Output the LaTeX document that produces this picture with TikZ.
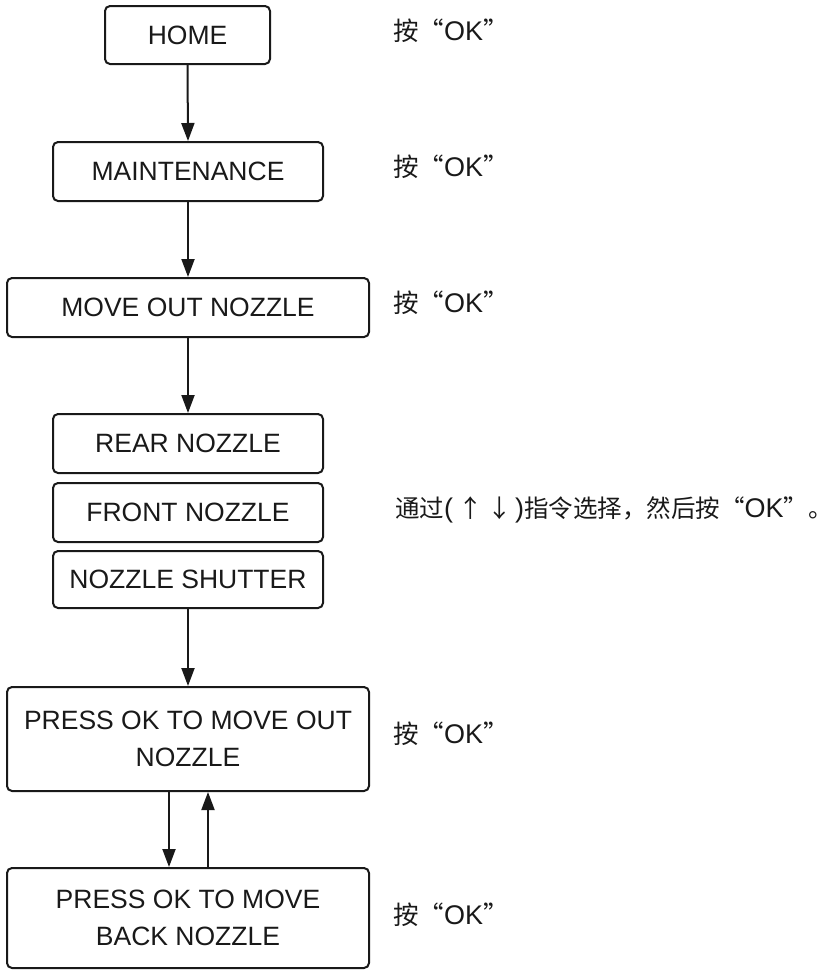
\documentclass[tikz,border=0pt]{standalone}
\usepackage{fontspec}
\setmainfont{Liberation Sans}
\newfontfamily\cjk{Noto Sans CJK SC}
\usetikzlibrary{arrows.meta}
\tikzset{
  box/.style={draw=black!90, line width=2pt, rounded corners=5pt, inner sep=0pt,
    align=center, font=\fontsize{26.5}{37}\selectfont, text=black!90},
  arr/.style={line width=2pt, draw=black!90, -{Triangle[length=18pt,width=13pt]}},
  lab/.style={anchor=west, inner sep=0pt, font=\fontsize{27}{30}\selectfont, text=black!90},
}
\newcommand{\cj}[1]{{\cjk\fontsize{25.5}{30}\selectfont #1}}
\newcommand{\cjs}[1]{{\cjk\fontsize{24.5}{30}\selectfont #1}}
\begin{document}
\begin{tikzpicture}[x=1pt,y=-1pt]
\useasboundingbox (0,0) rectangle (835,970);
\node[box, minimum width=165pt, minimum height=58pt] (home) at (187.5,35) {HOME};
\node[box, minimum width=270pt, minimum height=59pt] (maint) at (188,171.5) {MAINTENANCE};
\node[box, minimum width=362pt, minimum height=59pt] (mout) at (188,307.5) {MOVE OUT NOZZLE};
\node[box, minimum width=270pt, minimum height=59pt] (rear) at (188,443.5) {REAR NOZZLE};
\node[box, minimum width=270pt, minimum height=59pt] (front) at (188,512.5) {FRONT NOZZLE};
\node[box, minimum width=270pt, minimum height=57pt] (shut) at (188,579.5) {NOZZLE SHUTTER};
\node[box, minimum width=362pt, minimum height=104pt] (pout) at (188,739) {PRESS OK TO MOVE OUT\\NOZZLE};
\node[box, minimum width=362pt, minimum height=100pt] (pback) at (188,918) {PRESS OK TO MOVE\\BACK NOZZLE};

\draw[arr] (home.south) -- (maint.north);
\draw[arr] (maint.south) -- (mout.north);
\draw[arr] (mout.south) -- (rear.north);
\draw[arr] (shut.south) -- (pout.north);
\draw[arr] ([xshift=-19pt]pout.south) -- ([xshift=-19pt]pback.north);
\draw[arr] ([xshift=20pt]pback.north) -- ([xshift=20pt]pout.south);

\node[lab] (l1) at (393,31) {\cj{按“}OK\cj{”}};
\node[lab] (l2) at (393,167) {\cj{按“}OK\cj{”}};
\node[lab] (l3) at (393,303) {\cj{按“}OK\cj{”}};
\node[lab] (l4) at (393,734) {\cj{按“}OK\cj{”}};
\node[lab] (l5) at (393,915) {\cj{按“}OK\cj{”}};
\node[lab] (l6) at (395,510) {\cjs{通过}(\hspace{5pt}\cjs{↑}\hspace{5pt}\cjs{↓}\hspace{3pt})\cjs{指令选择，然后按“}OK\cjs{”。}};
\end{tikzpicture}
\end{document}
